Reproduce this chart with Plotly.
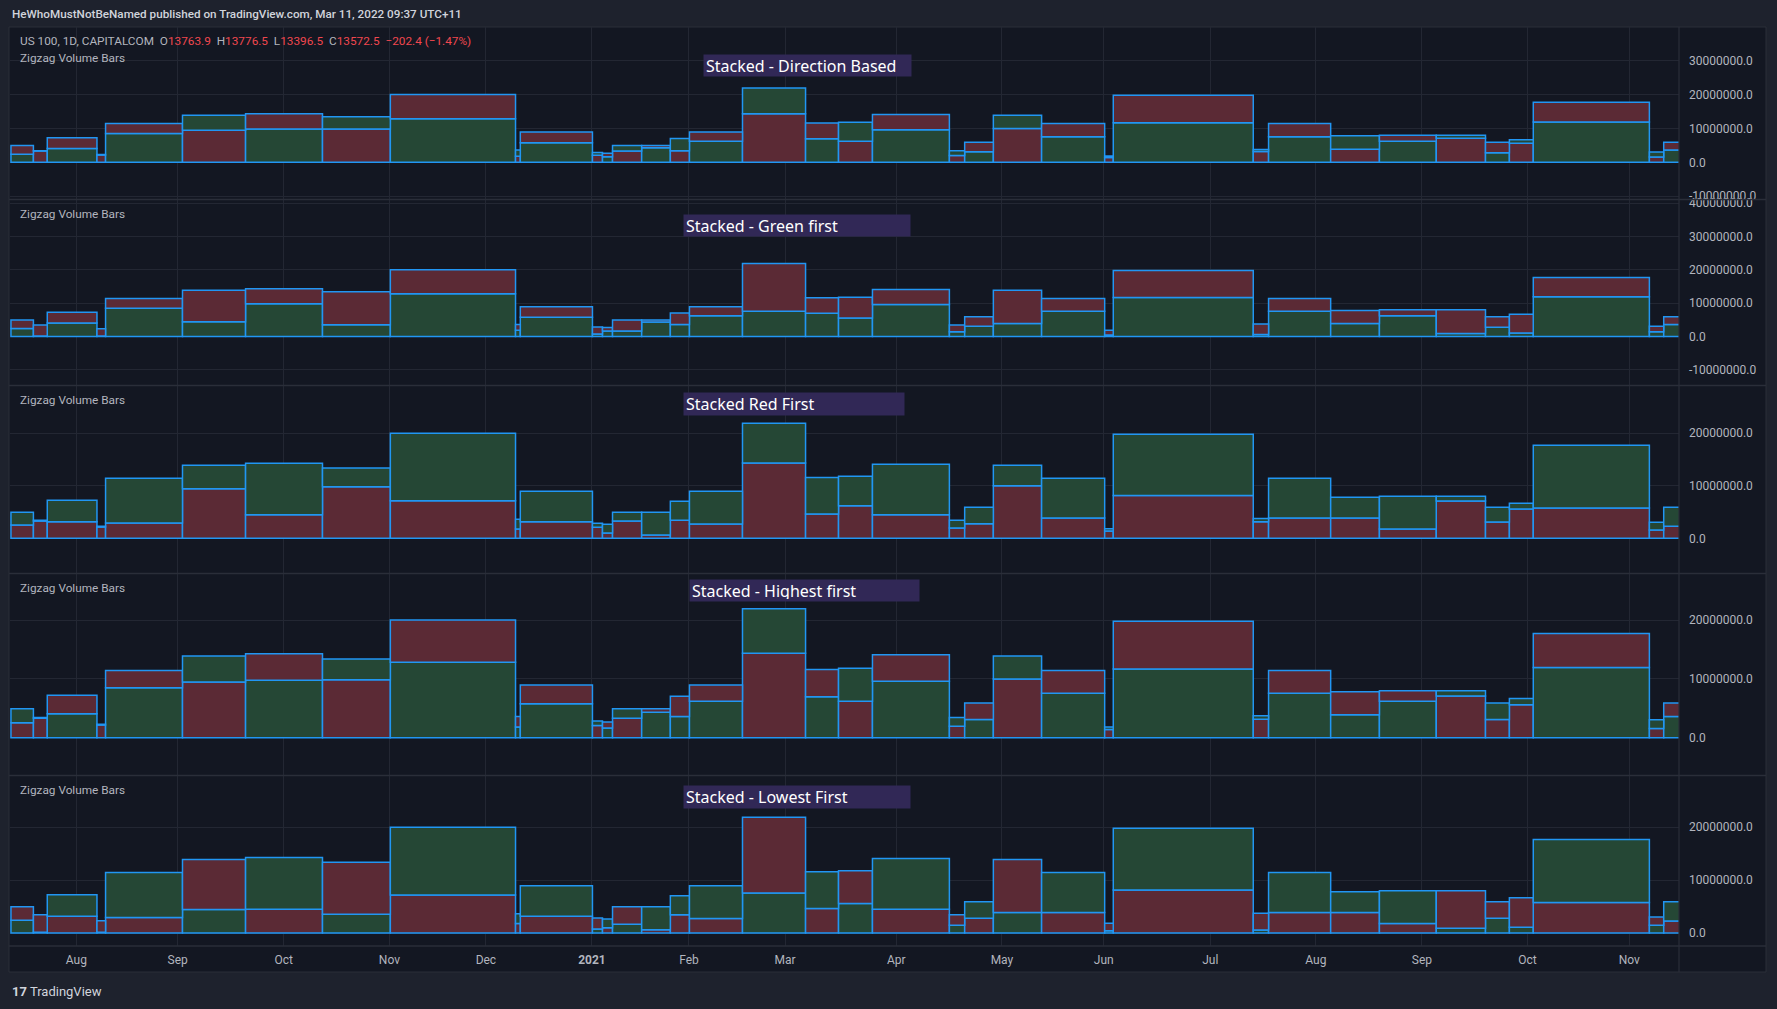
import plotly.graph_objects as go

W, H = 1777, 1009

# ---------------- data ----------------
# zigzag pivot positions in bars (0 = first daily bar of Aug 2020)
pivots = [-13.7, -9.0, -6.1, 4.3, 6.1, 22.2, 35.4, 51.5, 65.7, 91.9, 92.9, 108.0,
          110.1, 112.2, 118.3, 124.3, 128.3, 139.4, 152.6, 159.5, 166.6, 182.7,
          185.9, 191.9, 202.0, 215.2, 217.0, 246.3, 249.5, 262.5, 272.7, 284.6,
          294.9, 299.9, 304.9, 329.2, 332.2, 340.0]
# volume per zigzag leg, in millions
green_vol_m = [2.41, 0.13, 4.07, 0.14, 8.51, 4.44, 9.79, 3.56, 12.83, 1.84, 5.78, 0.76,
               1.67, 1.65, 4.32, 3.62, 6.22, 7.55, 6.97, 5.58, 9.60, 1.46, 3.11, 3.90,
               7.56, 0.44, 11.67, 0.58, 7.56, 3.93, 6.22, 0.90, 2.80, 1.07, 11.92, 1.46, 3.61]
red_vol_m = [2.54, 3.30, 3.17, 2.16, 2.92, 9.46, 4.50, 9.84, 7.17, 1.78, 3.17, 2.10,
             1.00, 3.30, 0.63, 3.43, 2.73, 14.35, 4.63, 6.22, 4.50, 1.97, 2.79, 10.00,
             3.87, 1.40, 8.13, 3.17, 3.87, 3.87, 1.78, 7.10, 3.10, 5.60, 5.78, 1.59, 2.29]
# leg direction: 1 = green stacked first, -1 = red stacked first
leg_dir = [1, -1, 1, -1, 1, -1, 1, -1, 1, -1, 1, -1, 1, -1, 1, -1, 1, -1, 1,
           -1, 1, -1, 1, -1, 1, -1, 1, -1, 1, -1, 1, -1, 1, -1, 1, -1, 1]

month_ticks = [0, 21.2, 43.4, 65.5, 85.7, 107.9, 128.2, 148.3, 171.6, 193.7,
               215.0, 237.3, 259.4, 281.6, 303.7, 325.0]
month_labels = ["Aug", "Sep", "Oct", "Nov", "Dec", "<b>2021</b>", "Feb", "Mar", "Apr",
                "May", "Jun", "Jul", "Aug", "Sep", "Oct", "Nov"]

pane_modes = ["direction", "green", "red", "highest", "lowest"]
pane_titles = ["Stacked - Direction Based", "Stacked - Green first", "Stacked Red First",
               "Stacked - Highest first", "Stacked - Lowest First"]
pane_yticks = [[-10e6, 0, 10e6, 20e6, 30e6],
               [-10e6, 0, 10e6, 20e6, 30e6, 40e6],
               [0, 10e6, 20e6],
               [0, 10e6, 20e6],
               [0, 10e6, 20e6]]

# ---------------- style ----------------
BG = "#131722"
OUTER = "#1e222d"
GRID = "#232733"
SEP = "#2a2e39"
BLUE = "#2196f3"
GREEN = "#254735"
RED = "#5b2a35"
TXT = "#b2b5be"
LRED = "#f0474f"
PURPLE = "#312856"
FONT = "Roboto"

pane_px = [(27, 199.5), (199.5, 385.5), (385.5, 573.5), (573.5, 775.5), (775.5, 946)]
pane_range = [(-10.97e6, 39.9e6), (-14.7e6, 41.1e6), (-6.7e6, 29.1e6),
              (-6.4e6, 27.9e6), (-2.46e6, 29.8e6)]
pane_label_y = [58, 214, 400, 588, 790]
title_box = [(703, 54, 910, 75), (683, 214, 909, 235), (683, 392, 903, 414),
             (689, 579, 918, 600), (683, 785, 909, 807)]
X0, X1 = 10, 1679
xrange = [-13.9, 335.4]

n = len(green_vol_m)
mids = [(pivots[k] + pivots[k + 1]) / 2 for k in range(n)]
widths = [pivots[k + 1] - pivots[k] for k in range(n)]

fig = go.Figure()
layout = dict(width=W, height=H,
              margin=dict(l=0, r=0, t=0, b=0, pad=0, autoexpand=False),
              paper_bgcolor=OUTER, plot_bgcolor=BG, barmode="overlay",
              showlegend=False, font=dict(family=FONT, color=TXT, size=12))

for p, mode in enumerate(pane_modes):
    bot_v, top_v, bot_c, top_c = [], [], [], []
    for k in range(n):
        g = green_vol_m[k] * 1e6
        r = red_vol_m[k] * 1e6
        if mode == "direction":
            green_first = leg_dir[k] == 1
        elif mode == "green":
            green_first = True
        elif mode == "red":
            green_first = False
        elif mode == "highest":
            green_first = g >= r
        else:
            green_first = g < r
        if green_first:
            bot_v.append(g); top_v.append(r); bot_c.append(GREEN); top_c.append(RED)
        else:
            bot_v.append(r); top_v.append(g); bot_c.append(RED); top_c.append(GREEN)
    sfx = "" if p == 0 else str(p + 1)
    for base, vals, cols in ((None, bot_v, bot_c), (bot_v, top_v, top_c)):
        fig.add_trace(go.Bar(
            x=mids, y=vals, width=widths, base=base if base is not None else [0] * n,
            marker=dict(color=cols, line=dict(color=BLUE, width=1.5)),
            xaxis="x" + sfx, yaxis="y" + sfx, hoverinfo="skip"))
    top, bot = pane_px[p]
    layout["xaxis" + sfx] = dict(
        domain=[X0 / W, X1 / W], range=xrange, anchor="y" + sfx, automargin=False,
        tickvals=month_ticks, ticktext=month_labels, showgrid=True, gridcolor=GRID,
        gridwidth=1, zeroline=False, showline=False, ticks="",
        showticklabels=(p == 4), tickfont=dict(size=12, color=TXT, family=FONT),
        ticklabelstandoff=5, fixedrange=True,
        **({} if p == 0 else {"matches": "x"}))
    yt = pane_yticks[p]
    layout["yaxis" + sfx] = dict(
        domain=[1 - bot / H, 1 - top / H], range=list(pane_range[p]), anchor="x" + sfx,
        side="right", tickvals=yt, ticktext=[f"{v:.1f}" for v in yt], automargin=False,
        showgrid=True, gridcolor=GRID, zeroline=False, showline=False, ticks="",
        tickfont=dict(size=12, color=TXT, family=FONT), ticklabelstandoff=9,
        fixedrange=True)

shapes = [
    dict(type="rect", xref="paper", yref="paper", x0=9 / W, x1=1766 / W,
         y0=1 - 972 / H, y1=1 - 27 / H, fillcolor=BG, line=dict(color=SEP, width=1),
         layer="below"),
]
for yy in (199.5, 385.5, 573.5, 775.5, 946):
    shapes.append(dict(type="line", xref="paper", yref="paper", x0=9 / W, x1=1766 / W,
                       y0=1 - yy / H, y1=1 - yy / H, line=dict(color=SEP, width=1.5),
                       layer="above"))
shapes.append(dict(type="line", xref="paper", yref="paper", x0=X1 / W, x1=X1 / W,
                   y0=1 - 972 / H, y1=1 - 27 / H, line=dict(color=SEP, width=1.2),
                   layer="above"))

ann = []
ann.append(dict(x=10 / W, y=1 - 13.6 / H, xanchor="left", yanchor="middle",
                text="HeWhoMustNotBeNamed published on TradingView.com, Mar 11, 2022 09:37 UTC+11",
                font=dict(size=11.7, color="#d1d4dc", family=FONT, weight=500)))
legend_txt = (f"US 100, 1D, CAPITALCOM&nbsp;&nbsp;O<span style='color:{LRED}'>13763.9</span>"
              f"&nbsp;&nbsp;H<span style='color:{LRED}'>13776.5</span>"
              f"&nbsp;&nbsp;L<span style='color:{LRED}'>13396.5</span>"
              f"&nbsp;&nbsp;C<span style='color:{LRED}'>13572.5</span>"
              f"&nbsp;&nbsp;<span style='color:{LRED}'>−202.4 (−1.47%)</span>")
ann.append(dict(x=18 / W, y=1 - 41 / H, xanchor="left", yanchor="middle", text=legend_txt,
                font=dict(size=11.8, color=TXT, family=FONT)))
for p in range(5):
    ann.append(dict(x=18 / W, y=1 - pane_label_y[p] / H, xanchor="left", yanchor="middle",
                    text="Zigzag Volume Bars", font=dict(size=11.8, color=TXT, family=FONT)))
    l, t, r, b = title_box[p]
    ann.append(dict(x=l / W, y=1 - t / H, xanchor="left", yanchor="top",
                    width=r - l - 4, height=b - t - 4, borderpad=2, align="left",
                    valign="middle", bgcolor=PURPLE, text=pane_titles[p],
                    font=dict(size=16, color="#ffffff", family="Noto Sans")))
ann.append(dict(x=10 / W, y=1 - 991 / H, xanchor="left", yanchor="middle",
                text="<b>17</b> TradingView",
                font=dict(size=13, color="#d1d4dc", family=FONT)))
for a in ann:
    a.update(xref="paper", yref="paper", showarrow=False)

layout["shapes"] = shapes
layout["annotations"] = ann
fig.update_layout(**layout)
fig.write_html("out.html", config={"displayModeBar": False})
